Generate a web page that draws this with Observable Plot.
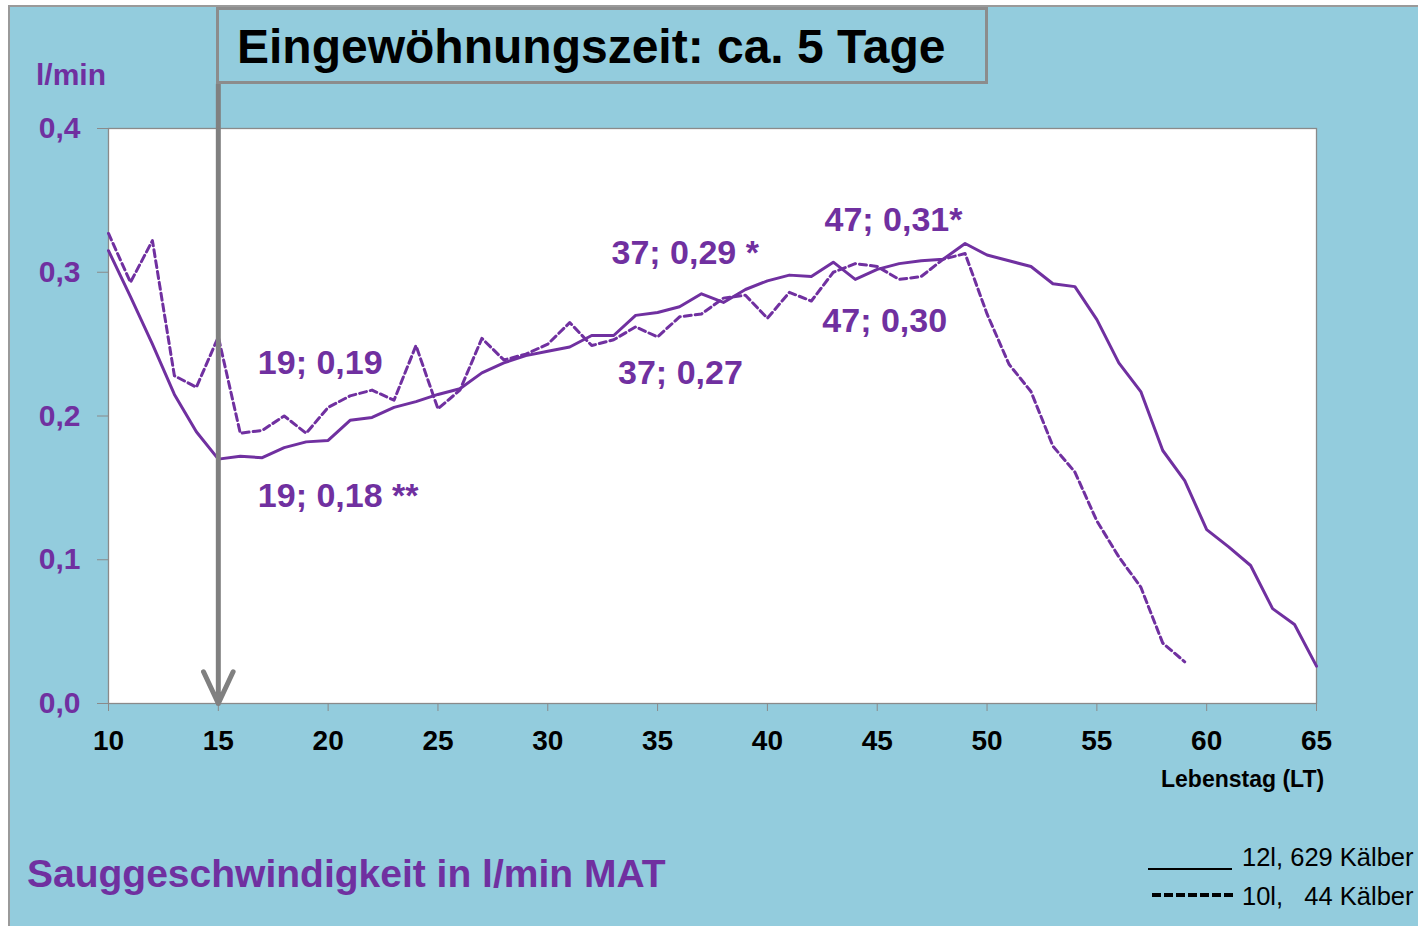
<!DOCTYPE html>
<html>
<head>
<meta charset="utf-8">
<script src="https://cdn.jsdelivr.net/npm/d3@7"></script>
<script src="https://cdn.jsdelivr.net/npm/@observablehq/plot@0.6"></script>
<style>
  html, body { margin: 0; padding: 0; background: #ffffff; width: 1418px; height: 926px; overflow: hidden;
    font-family: "Liberation Sans", Arial, Helvetica, sans-serif; }
  #bg { position: absolute; left: 8px; top: 5px; width: 1420px; height: 930px; background: #93CCDD;
    border-left: 2px solid #9a9a9a; border-top: 2px solid #9a9a9a; }
  #chart { position: absolute; left: 0; top: 0; }
  .abs { position: absolute; line-height: 1; white-space: pre; }
  #titlebox { position: absolute; left: 216px; top: 7px; width: 772px; height: 77px; box-sizing: border-box;
    border: 3px solid #8c8c8c; }
  #title { left: 237px; top: 23px; font-size: 48px; font-weight: bold; color: #000; }
  #unit { left: 36px; top: 60px; font-size: 30px; font-weight: bold; color: #7030A0; }
  #xlabel { left: 1161px; top: 768px; font-size: 23px; font-weight: bold; color: #000; }
  #caption { left: 27px; top: 854px; font-size: 39px; font-weight: bold; color: #7030A0; }
  #legend { position: absolute; left: 0; top: 0; }
</style>
</head>
<body>
<div id="bg"></div>
<div id="chart"></div>
<div id="titlebox"></div>
<div id="title" class="abs"></div>
<div id="unit" class="abs"></div>
<div id="xlabel" class="abs"></div>
<div id="caption" class="abs"></div>
<div id="legend"></div>
<script>
// ---------- data ----------
const titleText = "Eingewöhnungszeit: ca. 5 Tage";
const unitText = "l/min";
const xLabelText = "Lebenstag (LT)";
const captionText = "Sauggeschwindigkeit in l/min MAT";

const xTicks = [10, 15, 20, 25, 30, 35, 40, 45, 50, 55, 60, 65];
const yTicks = [0, 0.1, 0.2, 0.3, 0.4];

// 12 l, 629 Kälber (solid), days 10..65
const startDay12 = 10;
const values12 = [
  0.315, 0.283, 0.250, 0.215, 0.189, 0.170, 0.172, 0.171, 0.178, 0.182,
  0.183, 0.197, 0.199, 0.206, 0.210, 0.215, 0.219, 0.230, 0.237, 0.242,
  0.245, 0.248, 0.256, 0.256, 0.270, 0.272, 0.276, 0.285, 0.279, 0.288,
  0.294, 0.298, 0.297, 0.307, 0.295, 0.302, 0.306, 0.308, 0.309, 0.320,
  0.312, 0.308, 0.304, 0.292, 0.290, 0.267, 0.237, 0.217, 0.176, 0.155,
  0.121, 0.109, 0.096, 0.066, 0.055, 0.026
];

// 10 l, 44 Kälber (dashed), days 10..59
const startDay10 = 10;
const values10 = [
  0.327, 0.293, 0.322, 0.228, 0.220, 0.255, 0.188, 0.190, 0.200, 0.188,
  0.206, 0.214, 0.218, 0.211, 0.249, 0.205, 0.218, 0.254, 0.239, 0.243,
  0.250, 0.265, 0.249, 0.253, 0.262, 0.255, 0.269, 0.271, 0.282, 0.284,
  0.268, 0.286, 0.280, 0.300, 0.306, 0.304, 0.295, 0.297, 0.309, 0.313,
  0.271, 0.236, 0.217, 0.179, 0.161, 0.127, 0.102, 0.081, 0.042, 0.029
];

// annotation labels, anchored in data space (day, l/min)
const annLabels = ["47; 0,31*", "37; 0,29 *", "19; 0,19", "37; 0,27", "47; 0,30", "19; 0,18 **"];
const annDays   = [42.6, 32.9, 16.8, 33.2, 42.5, 16.8];
const annValues = [0.336, 0.313, 0.237, 0.230, 0.266, 0.144];

// arrow marking end of the adaptation period (day 15), from title box down to 0
const arrowDay = 15;
const arrowTop = 0.4306;

const legendLabels = ["12l, 629 Kälber", "10l,   44 Kälber"];

// ---------- build ----------
const purple = "#7030A0";
const solid = values12.map((v, i) => ({day: startDay12 + i, v}));
const dashed = values10.map((v, i) => ({day: startDay10 + i, v}));
const anns = annLabels.map((label, i) => ({label, day: annDays[i], v: annValues[i]}));

const chart = Plot.plot({
  width: 1418,
  height: 926,
  marginTop: 128,
  marginRight: 102,
  marginBottom: 223,
  marginLeft: 108,
  style: {background: "transparent", fontFamily: "'Liberation Sans', Arial, sans-serif", overflow: "visible"},
  x: {domain: [10, 65], ticks: xTicks},
  y: {domain: [0, 0.4], ticks: yTicks},
  marks: [
    Plot.frame({fill: "white", stroke: "#8a8a8a", strokeWidth: 1.3}),
    Plot.axisY({ticks: yTicks, tickSize: 11, tickPadding: 17, label: null,
      tickFormat: d => d.toFixed(1).replace(".", ","),
      fill: purple, stroke: "#8a8a8a", fontSize: 30, fontWeight: "bold"}),
    Plot.axisX({ticks: xTicks, tickSize: 8, tickPadding: 19, label: null,
      fill: "#000", stroke: "#8a8a8a", fontSize: 28, fontWeight: "bold"}),
    Plot.line(dashed, {x: "day", y: "v", stroke: purple, strokeWidth: 3, strokeDasharray: "7,4"}),
    Plot.line(solid, {x: "day", y: "v", stroke: purple, strokeWidth: 3}),
    Plot.arrow([{x: arrowDay, y1: arrowTop, y2: 0}], {
      x1: "x", x2: "x", y1: "y1", y2: "y2", stroke: "#808080", strokeWidth: 5,
      headLength: 10.5, headAngle: 50, strokeLinecap: "round", strokeLinejoin: "round"}),
    Plot.text(anns, {x: "day", y: "v", text: "label", textAnchor: "start", lineAnchor: "middle",
      fill: purple, fontSize: 34, fontWeight: "bold"})
  ]
});
document.getElementById("chart").append(chart);

document.getElementById("title").textContent = titleText;
document.getElementById("unit").textContent = unitText;
document.getElementById("xlabel").textContent = xLabelText;
document.getElementById("caption").textContent = captionText;

// legend
const legSvg = d3.select("#legend").append("svg").attr("width", 1418).attr("height", 926)
  .style("position", "absolute").style("left", 0).style("top", 0);
legSvg.append("line").attr("x1", 1148).attr("x2", 1232).attr("y1", 869).attr("y2", 869)
  .attr("stroke", "#000").attr("stroke-width", 2);
legSvg.append("line").attr("x1", 1152).attr("x2", 1234).attr("y1", 895).attr("y2", 895)
  .attr("stroke", "#000").attr("stroke-width", 4).attr("stroke-dasharray", "9,3");
legSvg.selectAll("text.leg").data(legendLabels).join("text")
  .attr("class", "leg")
  .attr("x", 1242)
  .attr("y", (d, i) => i === 0 ? 866 : 905)
  .attr("font-size", 25.5)
  .attr("fill", "#000")
  .attr("font-family", "'Liberation Sans', Arial, sans-serif")
  .style("white-space", "pre")
  .attr("xml:space", "preserve")
  .text(d => d);
</script>
</body>
</html>
